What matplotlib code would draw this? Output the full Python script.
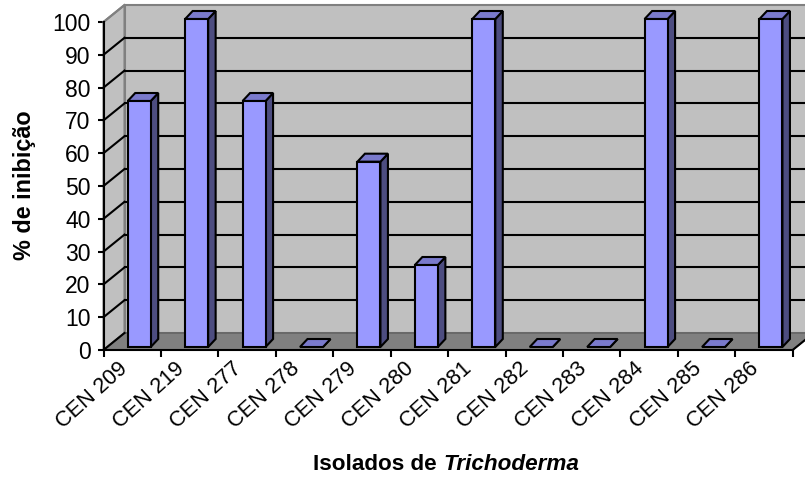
import matplotlib
matplotlib.use('Agg')
import matplotlib.pyplot as plt
from matplotlib.patches import Polygon

isolados = ['CEN 209', 'CEN 219', 'CEN 277', 'CEN 278', 'CEN 279', 'CEN 280',
            'CEN 281', 'CEN 282', 'CEN 283', 'CEN 284', 'CEN 285', 'CEN 286']
inibicao = [75, 100, 75, 0, 56.5, 25, 100, 0, 0, 100, 0, 100]
y_ticks = list(range(0, 101, 10))

plt.rcParams['font.family'] = ['Liberation Sans', 'DejaVu Sans']

W, H = 805, 479
x0_px, y0_px = 103.5, 350.0       # front corner of the plot
px_cat = 57.43                    # pixels per category
px_pct = 3.28                     # pixels per percent

fig = plt.figure(figsize=(W / 100, H / 100), dpi=100)
ax = fig.add_axes([x0_px / W, (H - y0_px) / H, (W - x0_px) / W, (y0_px - 5) / H])
ax.set_xlim(0, (W - x0_px) / px_cat)
ax.set_ylim(0, (y0_px - 5) / px_pct)
ax.patch.set_visible(False)


def dx(px):
    return px / px_cat


def dy(px):
    return px / px_pct


def poly(pts, fc, ec='black', lw=1.5, z=1):
    ax.add_patch(Polygon(pts, closed=True, facecolor=fc, edgecolor=ec,
                         linewidth=lw, zorder=z, clip_on=False, joinstyle='miter'))


n = len(isolados)
top = y_ticks[-1]
depth_x, depth_y = dx(21), dy(17)

# walls and floor
poly([(depth_x, depth_y), (n + depth_x, depth_y), (n + depth_x, top + depth_y), (depth_x, top + depth_y)],
     '#c0c0c0', '#808080', 1.5, 1)
poly([(0, 0), (depth_x, depth_y), (depth_x, top + depth_y), (0, top)], '#c0c0c0', '#808080', 1.5, 1)
poly([(0, 0), (n, 0), (n + depth_x, depth_y), (depth_x, depth_y)], '#808080', '#606060', 1.0, 1)

# gridlines on the walls
for t in y_ticks[1:-1]:
    ax.plot([depth_x, n + depth_x], [t + depth_y, t + depth_y], color='black', lw=1.5, zorder=2, clip_on=False)
for t in y_ticks[:-1]:
    ax.plot([0, depth_x], [t, t + depth_y], color='black', lw=1.5, zorder=2, clip_on=False)
ax.plot([0, depth_x], [top, top + depth_y], color='#808080', lw=1.5, zorder=2, clip_on=False)
ax.plot([n, n + depth_x], [0, depth_y], color='black', lw=1.5, zorder=2, clip_on=False)

# bars
larg = dx(23)
bx, by = dx(7.5), dy(8)
base = dy(3)
for i, v in enumerate(inibicao):
    esq = i + 0.5 + dx(7) - larg / 2
    dir_ = esq + larg
    h = v + base
    poly([(dir_, base), (dir_ + bx, base + by), (dir_ + bx, h + by), (dir_, h)], '#4d4d80', z=3)
    poly([(esq, h), (dir_, h), (dir_ + bx, h + by), (esq + bx, h + by)], '#7a7acc', z=3)
    if v > 0:
        poly([(esq, base), (dir_, base), (dir_, h), (esq, h)], '#9999ff', z=4)

# axes
for s in ['top', 'right']:
    ax.spines[s].set_visible(False)
ax.spines['left'].set_bounds(0, top)
ax.spines['bottom'].set_bounds(0, n)
for s in ['left', 'bottom']:
    ax.spines[s].set_linewidth(1.5)
    ax.spines[s].set_zorder(5)
ax.set_yticks(y_ticks)
ax.set_xticks(range(n + 1))
ax.set_xticklabels([''] * (n + 1))
ax.tick_params(axis='y', length=4, width=1.5, labelsize=16.5, pad=5.4)
ax.tick_params(axis='x', length=5, width=1.5)

# rotated labels, anchored at their upper right end
for i, nome in enumerate(isolados):
    ax.annotate(nome, xy=(i + 0.5, 0), xytext=(-15, -8), textcoords='offset pixels',
                rotation=42, ha='right', va='top', rotation_mode='anchor', fontsize=15.7)

fig.text(25 / W, 1 - 185 / H, '% de inibição', rotation=90, ha='center', va='center',
         fontsize=16.8, fontweight='bold')
fig.text(443 / W, 1 - 464 / H, 'Isolados de ', ha='right', va='center', fontsize=16.2, fontweight='bold')
fig.text(443 / W, 1 - 464 / H, 'Trichoderma', ha='left', va='center', fontsize=16.2,
         fontweight='bold', fontstyle='italic')

fig.savefig('out.png', dpi=100)
